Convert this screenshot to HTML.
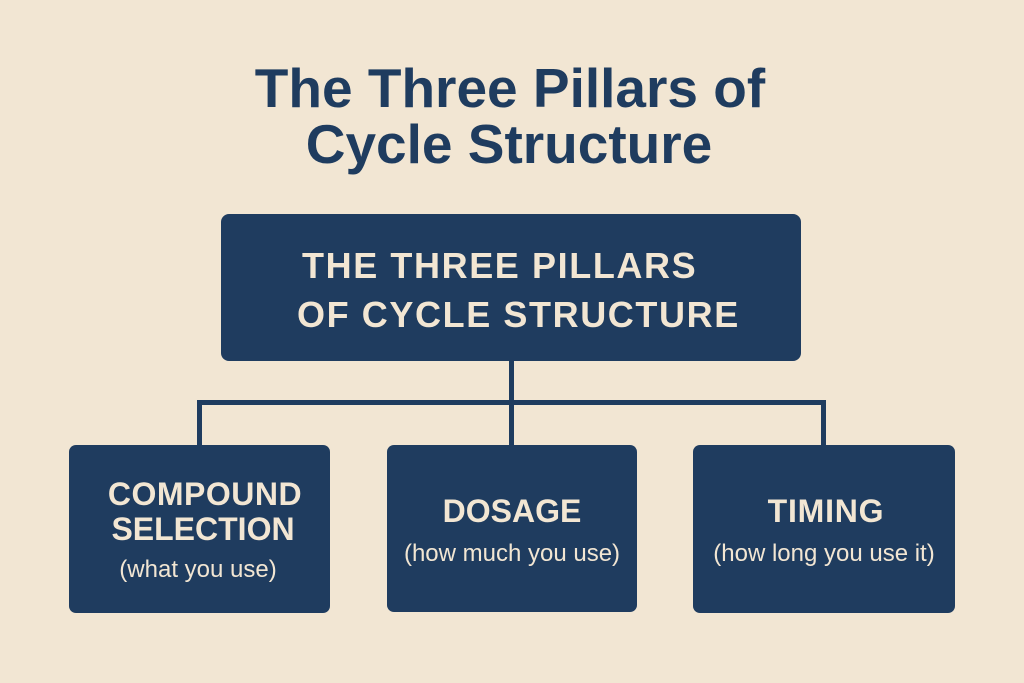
<!DOCTYPE html>
<html>
<head>
<meta charset="utf-8">
<style>
  html, body { margin: 0; padding: 0; background: #F2E6D3; }
  body { width: 1024px; height: 683px; overflow: hidden; }
  svg { display: block; }
  text { font-family: "Liberation Sans", "DejaVu Sans", sans-serif; }
</style>
</head>
<body>
<svg width="1024" height="683" viewBox="0 0 1024 683" xmlns="http://www.w3.org/2000/svg">
  <rect x="0" y="0" width="1024" height="683" fill="#F2E6D3"/>

  <!-- Title -->
  <text x="510" y="107" text-anchor="middle" font-size="55" font-weight="bold" fill="#1F3C5F">The Three Pillars of</text>
  <text x="509" y="163" text-anchor="middle" font-size="55" font-weight="bold" fill="#1F3C5F">Cycle Structure</text>

  <!-- Top box -->
  <rect x="221" y="214" width="580" height="147" rx="8" ry="8" fill="#1F3C5F"/>
  <text x="302" y="278" font-size="36" font-weight="bold" letter-spacing="1.6" fill="#F2E6D3">THE THREE PILLARS</text>
  <text x="297" y="327" font-size="36" font-weight="bold" letter-spacing="1.6" fill="#F2E6D3">OF CYCLE STRUCTURE</text>

  <!-- Connectors -->
  <rect x="509" y="358" width="5" height="89" fill="#1F3C5F"/>
  <rect x="197" y="400" width="629" height="5" fill="#1F3C5F"/>
  <rect x="197" y="400" width="5" height="47" fill="#1F3C5F"/>
  <rect x="821" y="400" width="5" height="47" fill="#1F3C5F"/>

  <!-- Bottom boxes -->
  <rect x="69" y="445" width="261" height="168" rx="7" ry="7" fill="#1F3C5F"/>
  <rect x="387" y="445" width="250" height="167" rx="7" ry="7" fill="#1F3C5F"/>
  <rect x="693" y="445" width="262" height="168" rx="7" ry="7" fill="#1F3C5F"/>

  <!-- Box 1 -->
  <text x="205" y="505" text-anchor="middle" font-size="32" font-weight="bold" letter-spacing="0.5" fill="#F2E6D3">COMPOUND</text>
  <text x="203" y="540" text-anchor="middle" font-size="32" font-weight="bold" fill="#F2E6D3">SELECTION</text>
  <text x="198" y="577" text-anchor="middle" font-size="24" fill="#F2E6D3">(what you use)</text>

  <!-- Box 2 -->
  <text x="512" y="522" text-anchor="middle" font-size="32" font-weight="bold" fill="#F2E6D3">DOSAGE</text>
  <text x="512" y="561" text-anchor="middle" font-size="24" fill="#F2E6D3">(how much you use)</text>

  <!-- Box 3 -->
  <text x="826" y="522" text-anchor="middle" font-size="32" font-weight="bold" letter-spacing="0.8" fill="#F2E6D3">TIMING</text>
  <text x="824" y="561" text-anchor="middle" font-size="24" fill="#F2E6D3">(how long you use it)</text>
</svg>
</body>
</html>
